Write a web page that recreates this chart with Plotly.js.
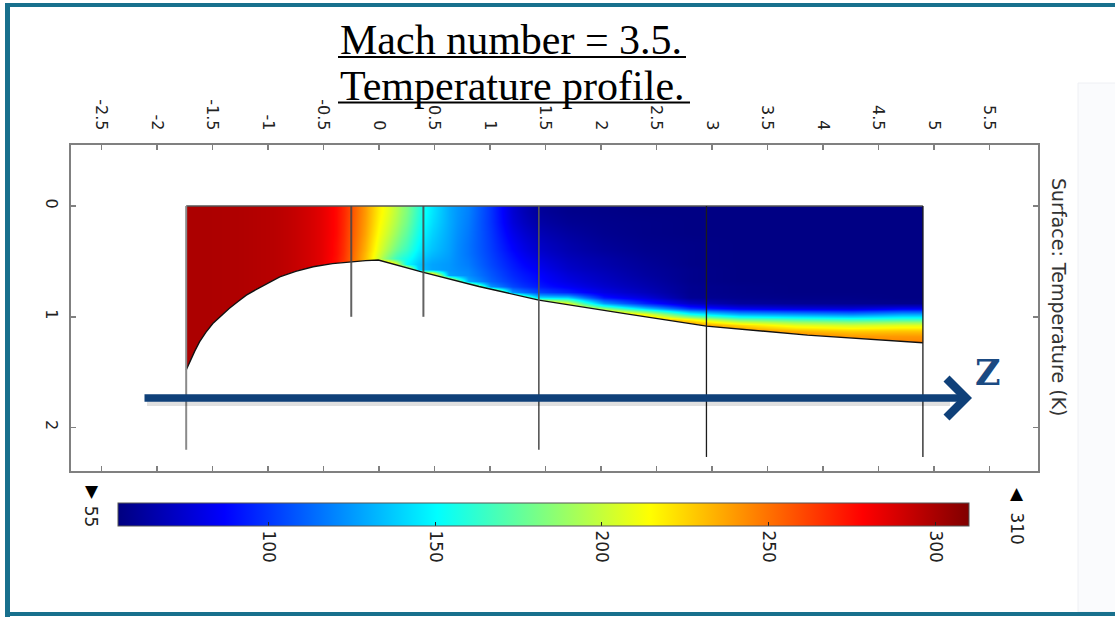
<!DOCTYPE html>
<html>
<head>
<meta charset="utf-8">
<script src="https://cdn.plot.ly/plotly-3.0.1.min.js"></script>
<style>html,body{margin:0;padding:0;background:#fff;}#chart{width:1115px;height:617px;}</style>
</head>
<body>
<div id="chart"></div>
<script>
// ---------------- DATA ----------------
const titleLine1 = "Mach number = 3.5.";
const titleLine2 = "Temperature profile.";
const fieldLabel = "Surface: Temperature (K)";
const axisLabel = "Z";

const xTickVals = [-2.5,-2,-1.5,-1,-0.5,0,0.5,1,1.5,2,2.5,3,3.5,4,4.5,5,5.5];
const xTickText = ["-2.5","-2","-1.5","-1","-0.5","0","0.5","1","1.5","2","2.5","3","3.5","4","4.5","5","5.5"];
const yTickVals = [0,1,2];
const yTickText = ["0","1","2"];

const tMin = 55, tMax = 310;
const cbTickVals = [100,150,200,250,300];
const cbTickText = ["100","150","200","250","300"];

// nozzle wall profile (axial x, radial y)
const wallX = [-1.737,-1.70,-1.66,-1.617,-1.56,-1.497,-1.42,-1.35,-1.27,-1.195,-1.10,-1.0,-0.894,-0.75,-0.593,-0.42,-0.247,-0.12,-0.006,0.4,0.9,1.44,2.2,2.95,3.86,4.90];
const wallY = [1.48,1.39,1.31,1.226,1.14,1.06,0.985,0.925,0.862,0.804,0.75,0.695,0.639,0.59,0.548,0.52,0.503,0.493,0.488,0.599,0.727,0.849,0.969,1.084,1.165,1.234];

// vertical geometry lines
const gLineX = [-1.737,-0.25,0.40,1.44,2.95,4.90];
const gLineBottom = [2.20,1.0,1.0,2.20,2.265,2.265];

// temperature field cells (edges) and values (one array per axial column)
const fieldXEdges = [-1.737,-1.4,-1.1,-0.8,-0.6,-0.45,-0.32,-0.22,-0.12,-0.04,0.04,0.12,0.2,0.3,0.4,0.55,0.7,0.9,1.1,1.3,1.55,1.85,2.2,2.6,3.0,3.5,4.0,4.5,4.9];
const fieldYEdges = [0,0.1,0.2,0.3,0.4,0.45,0.5,0.55,0.6,0.65,0.7,0.75,0.8,0.85,0.9,0.95,1.0,1.05,1.1,1.15,1.2,1.25,1.5];
const fieldColumns = [
 [299,299,299,299,299,299,299,299,299,299,299,299,299,299,299,299,299,299,299,299,299,299],
 [298,298,298,298,298,298,298,298,298,298,298,298,298,298,298,298,298,298,298,298,298,298],
 [296,296,296,296,296,296,296,296,296,296,296,296,296,296,296,296,296,296,296,296,296,296],
 [291,291,291,291,291,291,291,291,291,291,291,291,291,291,291,291,291,291,291,291,291,291],
 [285,285,285,285,285,285,285,285,285,285,285,285,285,285,285,285,285,285,285,285,285,285],
 [276,276,276,275,275,274,274,274,274,274,274,274,274,274,274,274,274,274,274,274,274,274],
 [262,261,260,259,258,257,257,257,257,257,257,257,257,257,257,257,257,257,257,257,257,257],
 [247,246,245,243,241,240,240,240,240,240,240,240,240,240,240,240,240,240,240,240,240,240],
 [232,231,229,226,223,221,225,225,225,225,225,225,225,225,225,225,225,225,225,225,225,225],
 [218,216,213,209,205,201,230,230,230,230,230,230,230,230,230,230,230,230,230,230,230,230],
 [208,205,201,195,188,180,238,238,238,238,238,238,238,238,238,238,238,238,238,238,238,238],
 [196,193,188,181,172,164,205,240,240,240,240,240,240,240,240,240,240,240,240,240,240,240],
 [182,179,174,168,161,155,150,242,242,242,242,242,242,242,242,242,242,242,242,242,242,242],
 [163,160,156,151,146,142,138,140,244,244,244,244,244,244,244,244,244,244,244,244,244,244],
 [145,143,140,137,134,131,128,128,244,244,244,244,244,244,244,244,244,244,244,244,244,244],
 [130,130,129,128,127,126,125,125,128,244,244,244,244,244,244,244,244,244,244,244,244,244],
 [119,118,117,116,116,117,118,120,122,130,244,244,244,244,244,244,244,244,244,244,244,244],
 [100,100,101,102,103,104,105,107,109,112,125,244,244,244,244,244,244,244,244,244,244,244],
 [76,78,82,86,89,91,93,95,97,100,105,125,244,244,244,244,244,244,244,244,244,244],
 [62,65,69,73,76,79,82,85,88,90,94,105,145,244,244,244,244,244,244,244,244,244],
 [58,60,63,66,68,70,72,74,77,80,85,95,140,205,244,244,244,244,244,244,244,244],
 [57,58,59,61,63,65,66,68,70,72,75,80,92,125,190,244,244,244,244,244,244,244],
 [56,57,57,58,59,60,61,62,63,65,67,70,78,95,140,210,244,244,244,244,244,244],
 [56,56,56,57,57,57,57,58,58,58,59,59,60,72,100,155,218,244,244,244,244,244],
 [56,56,56,56,56,56,56,56,56,56,57,57,58,62,85,130,180,224,244,244,244,244],
 [56,56,56,56,56,56,56,56,56,56,56,56,57,60,80,125,170,208,232,246,246,246],
 [56,56,56,56,56,56,56,56,56,56,56,56,57,59,78,120,165,203,226,239,246,246],
 [56,56,56,56,56,56,56,56,56,56,56,56,56,58,85,128,168,207,228,240,246,248]
];

// ---------------- LAYOUT HELPERS ----------------
const W = 1115, H = 617;
const M = {l:71, r:77, t:145, b:146};
const PW = W - M.l - M.r, PH = H - M.t - M.b;
const fx = p => (p - M.l) / PW;          // page px -> paper x
const fy = p => (H - M.b - p) / PH;      // page px -> paper y

const jet = [[0,'rgb(0,0,128)'],[0.125,'rgb(0,0,255)'],[0.375,'rgb(0,255,255)'],[0.625,'rgb(255,255,0)'],[0.875,'rgb(255,0,0)'],[1,'rgb(128,0,0)']];

const tickFont = {family:'DejaVu Sans, Verdana, sans-serif', size:16, color:'#222'};

// ---------------- TRACES ----------------
const traces = [];
traces.push({
  type:'heatmap', x:fieldXEdges, y:fieldYEdges, z:fieldColumns, transpose:true,
  zsmooth:'best', colorscale:jet, zmin:tMin, zmax:tMax, hoverinfo:'skip',
  colorbar:{orientation:'h', x:fx(543.5), xanchor:'center', y:fy(502.7), yanchor:'top',
    len:851/PW, lenmode:'fraction', thickness:23, thicknessmode:'pixels', xpad:0, ypad:0,
    outlinewidth:1, outlinecolor:'#555', tickmode:'array', tickvals:cbTickVals, ticktext:cbTickText,
    tickangle:90, ticks:'inside', ticklen:4, tickcolor:'#222', tickfont:{family:tickFont.family, size:17, color:'#222'}}
});
// mask below wall
const maskX = wallX.concat([4.93,4.93,-1.76,-1.76]);
const maskY = wallY.concat([1.234,1.6,1.6,1.48]);
traces.push({type:'scatter', x:maskX, y:maskY, mode:'lines', fill:'toself', fillcolor:'#ffffff', line:{width:0}, hoverinfo:'skip', showlegend:false});
// wall line and top edge
traces.push({type:'scatter', x:wallX, y:wallY, mode:'lines', line:{color:'#111', width:1.4}, hoverinfo:'skip', showlegend:false});
traces.push({type:'scatter', x:[wallX[0], wallX[wallX.length-1]], y:[0,0], mode:'lines', line:{color:'#555', width:1.5}, hoverinfo:'skip', showlegend:false});
// geometry vertical lines
const lineStyles = [
  {color:'#8a8a8a', width:2}, {color:'rgba(70,70,70,0.85)', width:2}, {color:'rgba(70,70,70,0.85)', width:2},
  {color:'#555', width:1.6}, {color:'#1c1c1c', width:1.3}, {color:'#1c1c1c', width:1.3}];
gLineX.forEach((xv,i) => {
  traces.push({type:'scatter', x:[xv,xv], y:[0,gLineBottom[i]], mode:'lines', line:lineStyles[i], hoverinfo:'skip', showlegend:false});
});

// ---------------- LAYOUT ----------------
const teal = 'rgb(24,112,141)';
const shapes = [
  {type:'rect', xref:'paper', yref:'paper', x0:fx(1078), x1:fx(1117), y0:fy(83), y1:fy(612), fillcolor:'#fafbfd', line:{color:'#eef0f4', width:1}, layer:'below'},
  {type:'rect', xref:'paper', yref:'paper', x0:fx(5), x1:fx(1117), y0:fy(3), y1:fy(7), fillcolor:teal, line:{width:0}},
  {type:'rect', xref:'paper', yref:'paper', x0:fx(5), x1:fx(10), y0:fy(3), y1:fy(618), fillcolor:teal, line:{width:0}},
  {type:'rect', xref:'paper', yref:'paper', x0:fx(5), x1:fx(1117), y0:fy(612), y1:fy(616), fillcolor:teal, line:{width:0}},
  // title underlines
  {type:'line', xref:'paper', yref:'paper', x0:fx(338), x1:fx(686), y0:fy(57), y1:fy(57), line:{color:'#000', width:2.2}},
  {type:'line', xref:'paper', yref:'paper', x0:fx(338), x1:fx(690), y0:fy(102.5), y1:fy(102.5), line:{color:'#000', width:2.2}},
  // arrow shadow
  {type:'line', xref:'paper', yref:'paper', x0:fx(147), x1:fx(950), y0:fy(403), y1:fy(403), line:{color:'rgba(0,0,0,0.12)', width:6}}
];

const annotations = [
  {xref:'paper', yref:'paper', x:fx(338), y:fy(40), xanchor:'left', yanchor:'middle', text:titleLine1, showarrow:false,
   font:{family:'Liberation Serif, Times New Roman, serif', size:42, color:'#000'}},
  {xref:'paper', yref:'paper', x:fx(338), y:fy(86), xanchor:'left', yanchor:'middle', text:titleLine2, showarrow:false,
   font:{family:'Liberation Serif, Times New Roman, serif', size:42, color:'#000'}},
  {xref:'paper', yref:'paper', x:fx(1059), y:fy(297), xanchor:'center', yanchor:'middle', text:fieldLabel, textangle:90, showarrow:false,
   font:{family:'DejaVu Sans, sans-serif', size:19, color:'#333'}},
  {xref:'paper', yref:'paper', x:fx(91.7), y:fy(491), xanchor:'center', yanchor:'middle', text:'▼', showarrow:false, font:{family:'DejaVu Sans', size:17, color:'#000'}},
  {xref:'paper', yref:'paper', x:fx(91.7), y:fy(516.5), xanchor:'center', yanchor:'middle', text:String(tMin), textangle:90, showarrow:false, font:{family:tickFont.family, size:17, color:'#222'}},
  {xref:'paper', yref:'paper', x:fx(1016.6), y:fy(492.5), xanchor:'center', yanchor:'middle', text:'▲', showarrow:false, font:{family:'DejaVu Sans', size:17, color:'#000'}},
  {xref:'paper', yref:'paper', x:fx(1016.6), y:fy(528), xanchor:'center', yanchor:'middle', text:String(tMax), textangle:90, showarrow:false, font:{family:tickFont.family, size:17, color:'#222'}},
  // Z arrow
  {xref:'paper', yref:'paper', x:fx(972), y:fy(398), ax:-829, ay:0, axref:'pixel', ayref:'pixel', text:'', showarrow:true,
   arrowhead:4, arrowsize:1.0, arrowwidth:7.5, arrowcolor:'#0f4079', standoff:0},
  {xref:'paper', yref:'paper', x:fx(988), y:fy(372), xanchor:'center', yanchor:'middle', text:'<b>'+axisLabel+'</b>', showarrow:false,
   font:{family:'DejaVu Serif, serif', size:35, color:'#1b4a82'}}
];

const layout = {
  width:W, height:H, margin:M, paper_bgcolor:'#fff', plot_bgcolor:'#fff', showlegend:false,
  xaxis:{side:'top', range:[(M.l-379)/111, (W-M.r-379)/111], tickmode:'array', tickvals:xTickVals, ticktext:xTickText,
    tickangle:90, ticks:'inside', ticklen:5, tickwidth:1.5, tickcolor:'#808080', showline:true, linecolor:'#808080', linewidth:2,
    mirror:'allticks', showgrid:false, zeroline:false, tickfont:tickFont, ticklabelstandoff:7},
  yaxis:{range:[(H-M.b-206)/110.8, (M.t-206)/110.8], tickmode:'array', tickvals:yTickVals, ticktext:yTickText,
    tickangle:90, ticks:'inside', ticklen:5, tickwidth:1.5, tickcolor:'#808080', showline:true, linecolor:'#808080', linewidth:2,
    mirror:'allticks', showgrid:false, zeroline:false, tickfont:tickFont, ticklabelstandoff:4},
  shapes:shapes, annotations:annotations
};

Plotly.newPlot('chart', traces, layout, {displayModeBar:false, staticPlot:true});
</script>
</body>
</html>
